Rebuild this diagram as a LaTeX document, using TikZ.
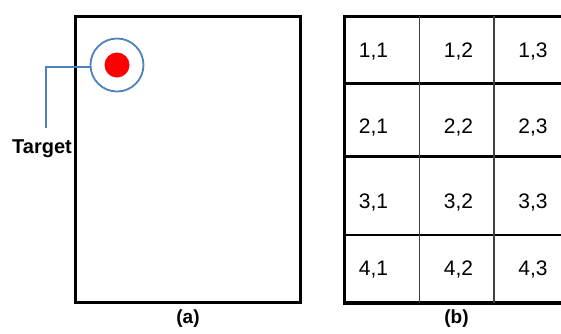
\documentclass[tikz,border=0pt]{standalone}
\usepackage{fontspec}
\setmainfont{Liberation Sans}
\definecolor{ringblue}{RGB}{79,129,189}
\begin{document}
\begin{tikzpicture}[x=1pt,y=-1pt,
  frame/.style={line width=3pt},
  gridin/.style={line width=2.5pt},
  gridv/.style={line width=1.5pt, draw=black!75},
  cell/.style={font=\fontsize{21}{24}\selectfont, anchor=base, inner sep=0pt},
  caption/.style={font=\bfseries\fontsize{19}{22}\selectfont, anchor=base, inner sep=0pt},
  callout/.style={draw=ringblue, line width=2.5pt}
]
\useasboundingbox (0,0) rectangle (561,333);
% panel (a)
\node[draw, frame, minimum width=225pt, minimum height=286.5pt, inner sep=0pt] (areaA) at (188,159.25) {};
\node[circle, draw=ringblue, line width=1.8pt, minimum size=53pt, inner sep=0pt] (ring) at (117,65) {};
\node[circle, fill=red, minimum size=25pt, inner sep=0pt] (dot) at (117,65) {};
\node[caption, font=\bfseries\fontsize{20}{23}\selectfont] (lbl) at (42,153.3) {Target};
\coordinate (tail) at (46,128);
\draw[callout] (ring.184) -| (tail);
\node[caption] (capA) at (188,323) {(a)};
% panel (b)
\draw[frame] (561,16) -- (344.5,16) -- (344.5,303);
\draw[line width=4pt] (343,303) -- (561,303);
\draw[gridin] (344.5,83.5) -- (561,83.5);
\draw[gridin] (344.5,156.5) -- (561,156.5);
\draw[gridin] (344.5,235) -- (561,235);
\draw[gridv] (419.5,16) -- (419.5,303);
\draw[gridv] (494,16) -- (494,303);
\foreach \r/\yb in {1/57, 2/133, 3/208, 4/275} {
  \node[cell] (c\r1) at (373.5,\yb) {\r,1};
  \node[cell] (c\r2) at (458.5,\yb) {\r,2};
  \node[cell] (c\r3) at (533,\yb) {\r,3};
}
\node[caption] (capB) at (456.5,323) {(b)};
\end{tikzpicture}
\end{document}
